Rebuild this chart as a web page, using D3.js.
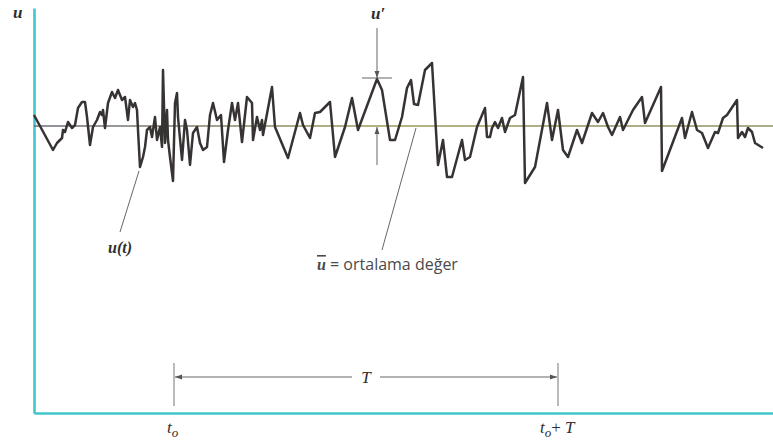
<!DOCTYPE html>
<html>
<head>
<meta charset="utf-8">
<script src="https://cdn.jsdelivr.net/npm/d3@7/dist/d3.min.js"></script>
<style>
  html, body { margin: 0; padding: 0; background: #fff; }
  svg { display: block; }
  .serif { font-family: "Liberation Serif", "DejaVu Serif", serif; font-style: italic; fill: #2e2e2e; }
</style>
</head>
<body>
<svg id="chart" width="773" height="446"></svg>
<script>
// time (s) and velocity u
var times = [0, 0.95, 1.15, 1.4, 1.45, 1.55, 1.7, 1.9, 2.05, 2.2, 2.4, 2.55, 2.65, 2.8, 2.95, 3.15, 3.3, 3.4, 3.45, 3.55,
    3.7, 3.9, 4.05, 4.2, 4.4, 4.55, 4.7, 4.8, 4.95, 5.05, 5.15, 5.2, 5.3, 5.45, 5.55, 5.65, 5.8, 5.9, 6.05, 6.15,
    6.3, 6.4, 6.45, 6.55, 6.65, 6.7, 6.8, 6.95, 7.05, 7.15, 7.2, 7.4, 7.55, 7.65, 7.8, 7.95, 8.15, 8.3, 8.45, 8.65,
    8.8, 8.95, 9.15, 9.35, 9.5, 9.7, 9.9, 10.05, 10.2, 10.4, 10.65, 10.9, 10.95, 11.15, 11.3, 11.4, 11.45, 11.9, 12.05, 12.7,
    13.3, 13.45, 13.8, 14.05, 14.3, 14.8, 15.05, 15.55, 15.9, 16.2, 17.15, 17.4, 17.8, 18.05, 18.4, 18.65, 18.85, 19.0, 19.2, 19.55,
    19.9, 20.2, 20.45, 20.65, 20.9, 21.4, 21.55, 21.8, 22.15, 22.55, 22.65, 22.8, 22.9, 23.05, 23.2, 23.4, 23.55, 23.8, 24.05, 24.45,
    24.55, 25.05, 25.65, 25.9, 26.2, 26.45, 26.7, 27.15, 27.4, 27.9, 28.2, 28.45, 28.7, 28.9, 29.3, 29.45, 29.95, 30.4, 30.55, 31.35,
    31.4, 32.4, 32.55, 32.9, 33.15, 33.4, 33.7, 34.05, 34.2, 34.45, 34.65, 35.15, 35.2, 35.4, 35.55, 35.7, 35.9, 36.05, 36.45];
var velocity = [29.8, 26.3, 27.0, 27.5, 28.3, 28.1, 29.1, 28.5, 28.8, 30.5, 31.1, 31.1, 29.6, 26.8, 28.6, 29.3, 30.1, 29.8, 30.3, 28.5,
    31.0, 32.1, 31.5, 32.3, 31.3, 31.6, 29.3, 31.3, 30.6, 31.0, 30.3, 28.3, 24.6, 25.6, 26.6, 28.3, 28.6, 27.6, 29.6, 27.3,
    28.6, 26.6, 34.3, 27.0, 30.3, 27.3, 25.6, 23.2, 31.0, 32.0, 29.6, 25.3, 29.3, 28.3, 24.8, 28.0, 28.6, 27.0, 26.3, 26.6,
    29.8, 31.0, 29.3, 29.8, 25.1, 28.3, 31.0, 29.3, 31.0, 27.1, 31.6, 31.0, 27.3, 29.6, 28.3, 29.3, 27.8, 32.6, 28.6, 25.5,
    30.0, 28.8, 27.5, 30.0, 30.1, 31.1, 25.6, 28.6, 31.5, 28.3, 33.4, 32.3, 27.3, 27.3, 29.6, 32.5, 33.3, 30.9, 30.8, 34.3,
    35.0, 24.8, 27.3, 23.6, 23.6, 27.3, 25.3, 25.6, 28.6, 30.5, 27.6, 27.6, 28.5, 29.1, 28.5, 29.5, 28.1, 29.5, 29.8, 33.6,
    23.0, 24.6, 31.0, 27.3, 30.3, 26.3, 25.6, 28.3, 27.0, 30.0, 29.1, 30.0, 28.6, 27.8, 29.6, 28.3, 30.3, 31.6, 29.0, 32.6,
    24.2, 29.5, 27.5, 30.1, 28.3, 28.0, 26.5, 28.1, 28.0, 29.5, 29.8, 31.3, 27.5, 28.1, 27.6, 28.5, 28.1, 27.0, 26.5];

var uMean = 28.7;          // ortalama değer
var t0 = 7.0;              // start of averaging window
var period = 19.2;         // T
var peakTime = 17.15;      // where u' is marked
var peakValue = 33.4;

var svg = d3.select("#chart");

var x = d3.scaleLinear().domain([0, 37]).range([34, 774]);
var y = d3.scaleLinear().domain([0, 40.5]).range([413, 8]);

var points = times.map(function(t, i) { return [t, velocity[i]]; });

var defs = svg.append("defs");

var grad = defs.append("linearGradient")
    .attr("id", "meanGrad")
    .attr("gradientUnits", "userSpaceOnUse")
    .attr("x1", x(0)).attr("x2", x(37))
    .attr("y1", 0).attr("y2", 0);
grad.append("stop").attr("offset", "0%").attr("stop-color", "#6e6a7c");
grad.append("stop").attr("offset", "45%").attr("stop-color", "#9a9a58");
grad.append("stop").attr("offset", "100%").attr("stop-color", "#8f9064");

defs.append("marker")
    .attr("id", "arrow")
    .attr("viewBox", "0 0 10 10")
    .attr("refX", 10).attr("refY", 5)
    .attr("markerWidth", 7).attr("markerHeight", 7)
    .attr("markerUnits", "userSpaceOnUse")
    .attr("orient", "auto")
    .append("path")
        .attr("d", "M0,1.5L10,5L0,8.5Z")
        .attr("fill", "#555");

// axes: cyan frame lines, no ticks
svg.append("g")
    .attr("transform", "translate(" + x(0) + ",0)")
    .call(d3.axisLeft(y).tickValues([]).tickSizeOuter(0))
    .select(".domain")
        .attr("stroke", "#3fc7cd")
        .attr("stroke-width", 2.6);

svg.append("g")
    .attr("transform", "translate(0," + y(0) + ")")
    .call(d3.axisBottom(x).tickValues([]).tickSizeOuter(0))
    .select(".domain")
        .attr("stroke", "#3fc7cd")
        .attr("stroke-width", 2.6);

svg.append("text")
    .attr("class", "serif")
    .attr("x", x(0) - 21)
    .attr("y", y(40.5) + 10)
    .attr("font-size", 17)
    .attr("font-weight", "bold")
    .attr("fill", "#3a3a3a")
    .text("u");

// mean line
svg.append("line")
    .attr("x1", x(0)).attr("x2", x(37))
    .attr("y1", y(uMean)).attr("y2", y(uMean))
    .attr("stroke", "url(#meanGrad)")
    .attr("stroke-width", 1.4);

// u(t) trace
var line = d3.line()
    .x(function(d) { return x(d[0]); })
    .y(function(d) { return y(d[1]); });

svg.append("path")
    .datum(points)
    .attr("d", line)
    .attr("fill", "none")
    .attr("stroke", "#383333")
    .attr("stroke-width", 2.5)
    .attr("stroke-linejoin", "round");

// u' marker
var px = x(peakTime);
svg.append("line")
    .attr("x1", px).attr("x2", px)
    .attr("y1", 28).attr("y2", y(peakValue) - 1)
    .attr("stroke", "#666").attr("stroke-width", 1)
    .attr("marker-end", "url(#arrow)");
svg.append("line")
    .attr("x1", px - 15).attr("x2", px + 15)
    .attr("y1", y(peakValue) - 1).attr("y2", y(peakValue) - 1)
    .attr("stroke", "#666").attr("stroke-width", 1);
svg.append("line")
    .attr("x1", px).attr("x2", px)
    .attr("y1", y(uMean - 3.9)).attr("y2", y(uMean) + 1)
    .attr("stroke", "#666").attr("stroke-width", 1)
    .attr("marker-end", "url(#arrow)");
svg.append("text")
    .attr("class", "serif")
    .attr("x", px - 6)
    .attr("y", 19)
    .attr("font-size", 17)
    .attr("font-weight", "bold")
    .text("u\u2032");

// u(t) leader
svg.append("line")
    .attr("x1", x(5.25)).attr("x2", x(4.3))
    .attr("y1", y(24.2)).attr("y2", y(18.1))
    .attr("stroke", "#666").attr("stroke-width", 1);
svg.append("text")
    .attr("class", "serif")
    .attr("x", x(3.7))
    .attr("y", y(16.0))
    .attr("font-size", 16)
    .attr("font-weight", "bold")
    .text("u(t)");

// mean value leader
svg.append("line")
    .attr("x1", x(19.1)).attr("x2", x(17.4))
    .attr("y1", y(uMean - 0.2)).attr("y2", y(16.3))
    .attr("stroke", "#666").attr("stroke-width", 1);
var meanLabel = svg.append("text")
    .attr("x", x(14.15))
    .attr("y", y(14.3))
    .attr("font-family", "'Open Sans', 'Liberation Sans', sans-serif")
    .attr("font-size", 16)
    .attr("fill", "#4a4a4a");
meanLabel.append("tspan")
    .attr("font-family", "'Liberation Serif', serif")
    .attr("font-style", "italic")
    .attr("font-weight", "bold")
    .attr("font-size", 16)
    .attr("text-decoration", "overline")
    .text("u");
meanLabel.append("tspan").text(" = ortalama değer");

// averaging window T
var xa = x(t0), xb = x(t0 + period);
[xa, xb].forEach(function(xx) {
    svg.append("line")
        .attr("x1", xx).attr("x2", xx)
        .attr("y1", 363).attr("y2", 406)
        .attr("stroke", "#777").attr("stroke-width", 1);
});
var mid = (xa + xb) / 2;
svg.append("line")
    .attr("x1", mid - 14).attr("x2", xa + 1)
    .attr("y1", 377).attr("y2", 377)
    .attr("stroke", "#666").attr("stroke-width", 1)
    .attr("marker-end", "url(#arrow)");
svg.append("line")
    .attr("x1", mid + 14).attr("x2", xb - 1)
    .attr("y1", 377).attr("y2", 377)
    .attr("stroke", "#666").attr("stroke-width", 1)
    .attr("marker-end", "url(#arrow)");
svg.append("text")
    .attr("class", "serif")
    .attr("x", mid)
    .attr("y", 383)
    .attr("text-anchor", "middle")
    .attr("font-size", 17)
    .text("T");

var addTimeLabel = function(xx, withT) {
    var t = svg.append("text")
        .attr("class", "serif")
        .attr("x", xx - 7)
        .attr("y", 433)
        .attr("font-size", 17);
    t.append("tspan").text("t");
    t.append("tspan").attr("dy", 4).attr("font-size", 13).text("o");
    if (withT) {
        t.append("tspan").attr("dy", -4).attr("font-style", "normal").text("+ ");
        t.append("tspan").text("T");
    }
};
addTimeLabel(xa, false);
addTimeLabel(xb - 11, true);
</script>
</body>
</html>
